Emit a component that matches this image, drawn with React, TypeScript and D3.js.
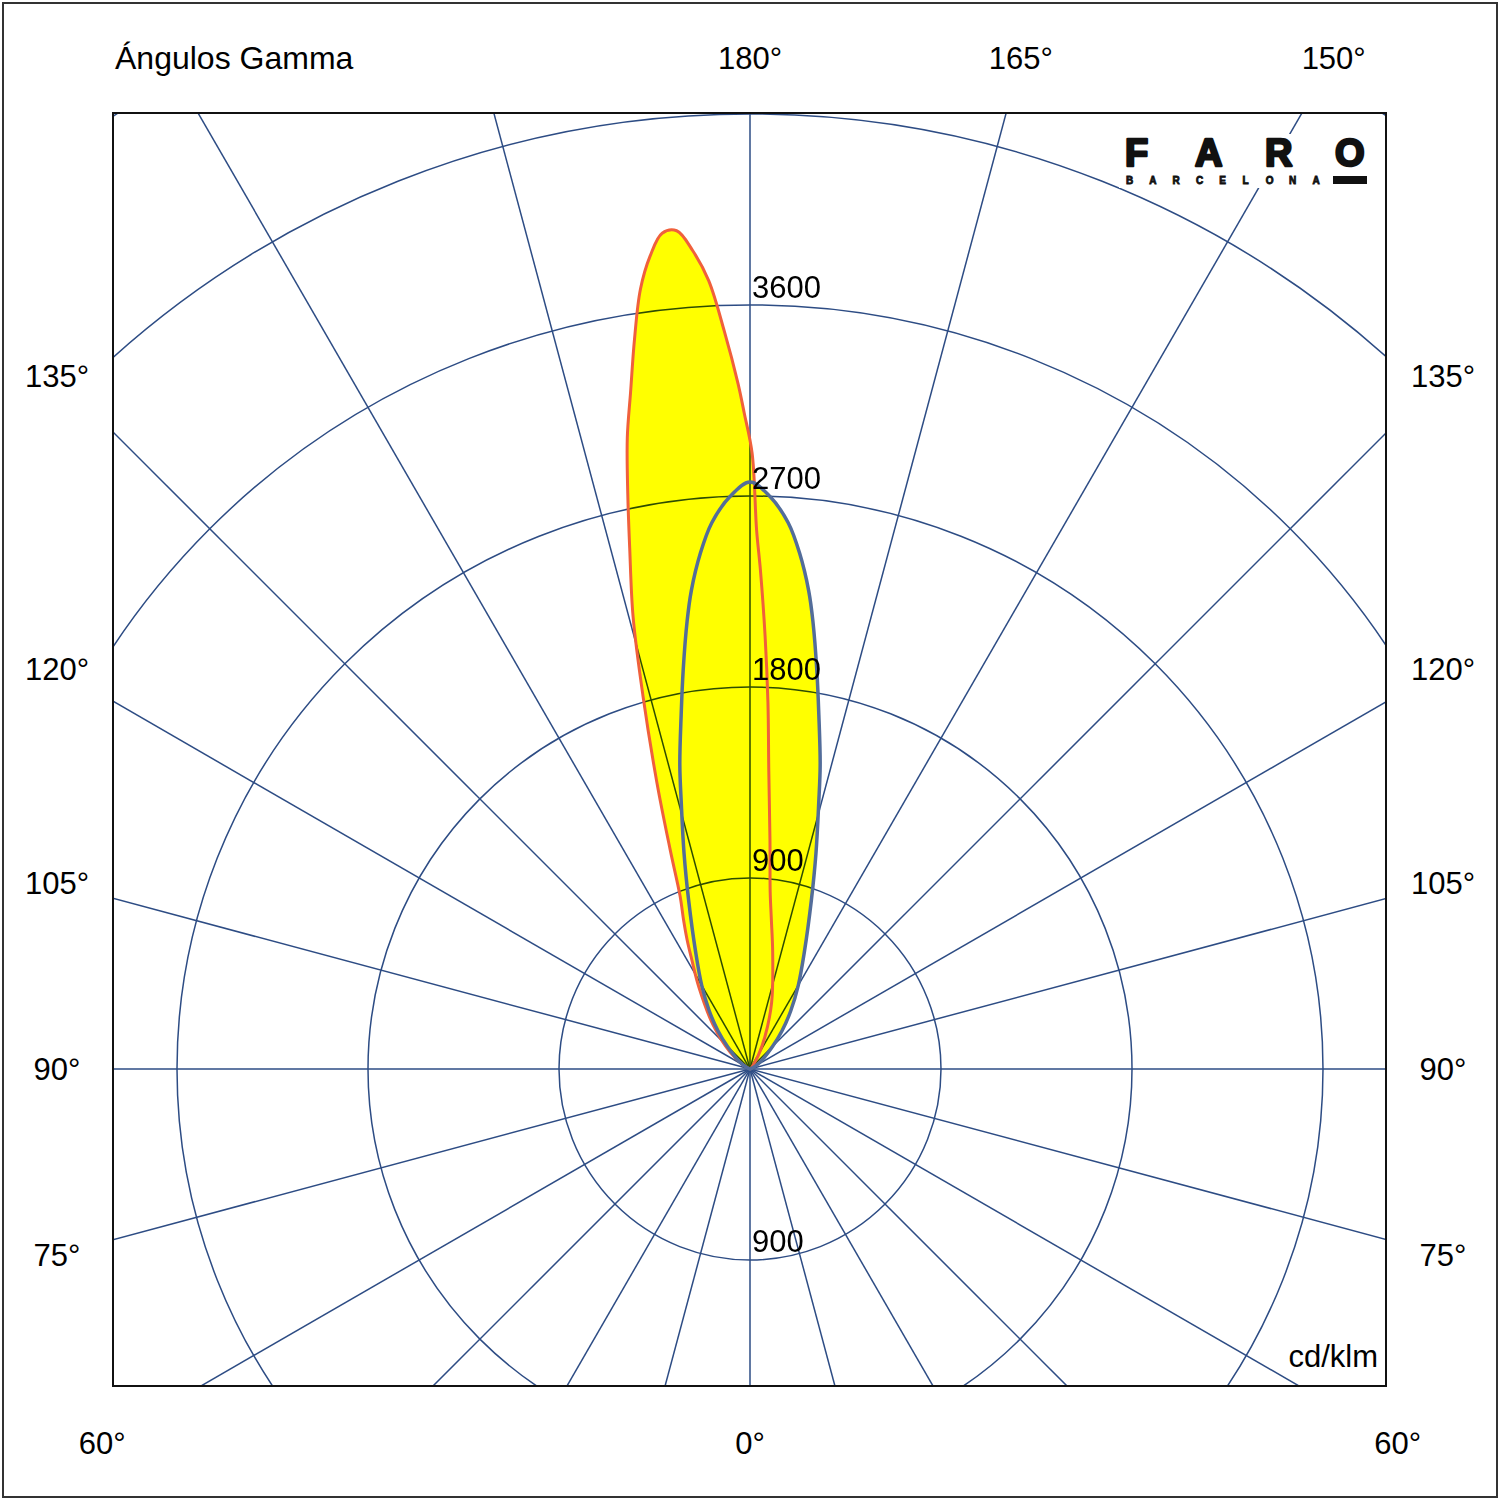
import * as React from "react";
import * as d3 from "d3";

// polar angles measured from the 180° (upward) direction, positive = towards the left side
const redAngles = [-90, -60, -40, -32, -25, -18, -11, -8, -6.5, -5, -3.6, -2.8, -2, -1.2, -0.7, -0.2, 0.5, 1, 2, 3, 4, 5, 6, 7, 8, 9, 10, 11, 12, 13, 14.5, 16, 18, 20, 22, 24, 26, 28, 32, 40, 50, 60, 90];
const redValues = [0, 5, 20, 70, 165, 330, 560, 720, 840, 1080, 1410, 1730, 2040, 2350, 2540, 2900, 3090, 3230, 3480, 3720, 3865, 3965, 3960, 3860, 3710, 3480, 3240, 3030, 2770, 2520, 2200, 1830, 1420, 1100, 880, 770, 675, 585, 455, 270, 120, 35, 0];

// symmetric plane, one half only
const blueAngles = [0, 2, 4, 5.5, 7, 8, 9.5, 11, 13, 14.5, 17, 20, 25, 30, 35, 40, 45, 55, 65, 90];
const blueValues = [2766, 2699, 2580, 2441, 2270, 2130, 1907, 1700, 1470, 1293, 1063, 845, 605, 455, 335, 235, 150, 60, 15, 0];

const ringValues = [900, 1800, 2700, 3600, 4500, 5400];
const ringLabelsUp = [900, 1800, 2700, 3600];
const ringLabelsDown = [900];
const spokeAngles = d3.range(0, 360, 15);

const gammaTop = [180];
const gammaRight = [165, 150, 135, 120, 105, 90, 75, 60];
const gammaLeft = [135, 120, 105, 90, 75, 60];
const gammaBottom = [0];

const title = "Ángulos Gamma";
const unitLabel = "cd/klm";
const logoLetters = ["F", "A", "R", "O"];
const logoSub = "BARCELONA".split("");

const CX = 750;
const CY = 1069;
const box = { x0: 113, y0: 113, x1: 1386, y1: 1386 };
const labelBox = { x0: 57, y0: 58, x1: 1443, y1: 1443 };
const gridColor = "#2d4c84";
const font = '"Liberation Sans", Arial, sans-serif';

function rayToLabelBox(aDeg: number): [number, number] {
  const a = (aDeg * Math.PI) / 180;
  const dx = Math.sin(a);
  const dy = -Math.cos(a);
  const ts: number[] = [];
  if (dx > 1e-9) ts.push((labelBox.x1 - CX) / dx);
  if (dx < -1e-9) ts.push((labelBox.x0 - CX) / dx);
  if (dy > 1e-9) ts.push((labelBox.y1 - CY) / dy);
  if (dy < -1e-9) ts.push((labelBox.y0 - CY) / dy);
  const t = Math.min(...ts);
  return [CX + dx * t, CY + dy * t];
}

function polarChart(svgRef: React.RefObject<SVGSVGElement>) {
  const svg = d3.select(svgRef.current);
  svg.selectAll("*").remove();

  const r = d3.scaleLinear().domain([0, 900]).range([0, 191]);

  svg
    .append("rect")
    .attr("width", 1500)
    .attr("height", 1500)
    .attr("fill", "#fff");

  // outer frame
  svg
    .append("rect")
    .attr("x", 3)
    .attr("y", 3)
    .attr("width", 1494)
    .attr("height", 1494)
    .attr("fill", "none")
    .attr("stroke", "#333")
    .attr("stroke-width", 2);

  svg
    .append("clipPath")
    .attr("id", "plot-clip")
    .append("rect")
    .attr("x", box.x0)
    .attr("y", box.y0)
    .attr("width", box.x1 - box.x0)
    .attr("height", box.y1 - box.y0);

  const plot = svg
    .append("g")
    .attr("clip-path", "url(#plot-clip)");

  const g = plot.append("g").attr("transform", `translate(${CX},${CY})`);

  /* grid */
  g.selectAll("circle.ring")
    .data(ringValues)
    .enter()
    .append("circle")
    .attr("class", "ring")
    .attr("r", (d) => r(d))
    .attr("fill", "none")
    .attr("stroke", gridColor)
    .attr("stroke-width", 1.5);

  g.selectAll("line.spoke")
    .data(spokeAngles)
    .enter()
    .append("line")
    .attr("class", "spoke")
    .attr("x1", 0)
    .attr("y1", 0)
    .attr("x2", (d) => 2000 * Math.sin((d * Math.PI) / 180))
    .attr("y2", (d) => -2000 * Math.cos((d * Math.PI) / 180))
    .attr("stroke", gridColor)
    .attr("stroke-width", 1.5);

  /* curves */
  const red = redAngles.map((a, i) => ({ a, v: redValues[i] }));
  const blueHalf = blueAngles.map((a, i) => ({ a, v: blueValues[i] }));
  const blue = [
    ...blueHalf.slice(1).reverse().map((d) => ({ a: -d.a, v: d.v })),
    ...blueHalf,
  ];

  const radial = d3
    .lineRadial<{ a: number; v: number }>()
    .angle((d) => (-d.a * Math.PI) / 180)
    .radius((d) => r(d.v))
    .curve(d3.curveCatmullRomClosed.alpha(0.5));

  [red, blue].forEach((c) => {
    g.append("path")
      .attr("d", radial(c))
      .attr("fill", "#ffff00")
      .style("mix-blend-mode", "multiply");
  });

  g.append("path")
    .attr("d", radial(red))
    .attr("fill", "none")
    .attr("stroke", "#f0603c")
    .attr("stroke-width", 3)
    .attr("stroke-linejoin", "round");

  g.append("path")
    .attr("d", radial(blue))
    .attr("fill", "none")
    .attr("stroke", "#536d9a")
    .attr("stroke-width", 3.5)
    .attr("stroke-linejoin", "round");

  /* ring labels */
  g.selectAll("text.up")
    .data(ringLabelsUp)
    .enter()
    .append("text")
    .attr("x", 2)
    .attr("y", (d) => -r(d) - 7)
    .attr("font-family", font)
    .attr("font-size", 31)
    .attr("fill", "#000")
    .text((d) => d);

  g.selectAll("text.down")
    .data(ringLabelsDown)
    .enter()
    .append("text")
    .attr("x", 2)
    .attr("y", (d) => r(d) - 8)
    .attr("font-family", font)
    .attr("font-size", 31)
    .attr("fill", "#000")
    .text((d) => d);

  // plot box
  svg
    .append("rect")
    .attr("x", box.x0)
    .attr("y", box.y0)
    .attr("width", box.x1 - box.x0)
    .attr("height", box.y1 - box.y0)
    .attr("fill", "none")
    .attr("stroke", "#111")
    .attr("stroke-width", 2);

  /* gamma labels */
  const gammaLabels = [
    ...gammaTop.map((g) => ({ g, a: 0 })),
    ...gammaRight.map((g) => ({ g, a: 180 - g })),
    ...gammaLeft.map((g) => ({ g, a: -(180 - g) })),
    ...gammaBottom.map((g) => ({ g, a: 180 })),
  ];

  svg
    .selectAll("text.gamma")
    .data(gammaLabels)
    .enter()
    .append("text")
    .attr("x", (d) => rayToLabelBox(d.a)[0])
    .attr("y", (d) => rayToLabelBox(d.a)[1])
    .attr("dy", "0.35em")
    .attr("text-anchor", "middle")
    .attr("font-family", font)
    .attr("font-size", 31)
    .attr("fill", "#000")
    .text((d) => `${d.g}°`);

  svg
    .append("text")
    .attr("x", 115)
    .attr("y", labelBox.y0)
    .attr("dy", "0.35em")
    .attr("font-family", font)
    .attr("font-size", 32)
    .attr("fill", "#000")
    .text(title);

  svg
    .append("text")
    .attr("x", box.x1 - 8)
    .attr("y", box.y1 - 30)
    .attr("dy", "0.35em")
    .attr("text-anchor", "end")
    .attr("font-family", font)
    .attr("font-size", 31)
    .attr("fill", "#000")
    .text(unitLabel);

  /* logo */
  const logo = svg.append("g").attr("transform", "translate(1125,0)");
  logo
    .append("rect")
    .attr("x", -6)
    .attr("y", 134)
    .attr("width", 250)
    .attr("height", 54)
    .attr("fill", "#fff");
  logo
    .selectAll("text.big")
    .data(logoLetters)
    .enter()
    .append("text")
    .attr("x", (_d, i) => i * 70)
    .attr("y", 166)
    .attr("font-family", font)
    .attr("font-weight", "bold")
    .attr("font-size", 38)
    .attr("fill", "#111")
    .attr("stroke", "#111")
    .attr("stroke-width", 2.5)
    .attr("stroke-linejoin", "round")
    .text((d) => d);
  logo
    .selectAll("text.small")
    .data(logoSub)
    .enter()
    .append("text")
    .attr("x", (_d, i) => 1 + i * 23.3)
    .attr("y", 184)
    .attr("font-family", font)
    .attr("font-weight", "bold")
    .attr("font-size", 10)
    .attr("fill", "#111")
    .attr("stroke", "#111")
    .attr("stroke-width", 0.8)
    .text((d) => d);
  logo
    .append("rect")
    .attr("x", 208)
    .attr("y", 176)
    .attr("width", 34)
    .attr("height", 8)
    .attr("fill", "#111");
}

const App: React.FunctionComponent = () => {
  const svg = React.useRef<SVGSVGElement>(null);
  React.useEffect(() => {
    polarChart(svg);
  }, [svg]);

  return (
    <svg
      ref={svg}
      width={1500}
      height={1500}
      style={{ position: "absolute", left: 0, top: 0 }}
    />
  );
};

export default App;
